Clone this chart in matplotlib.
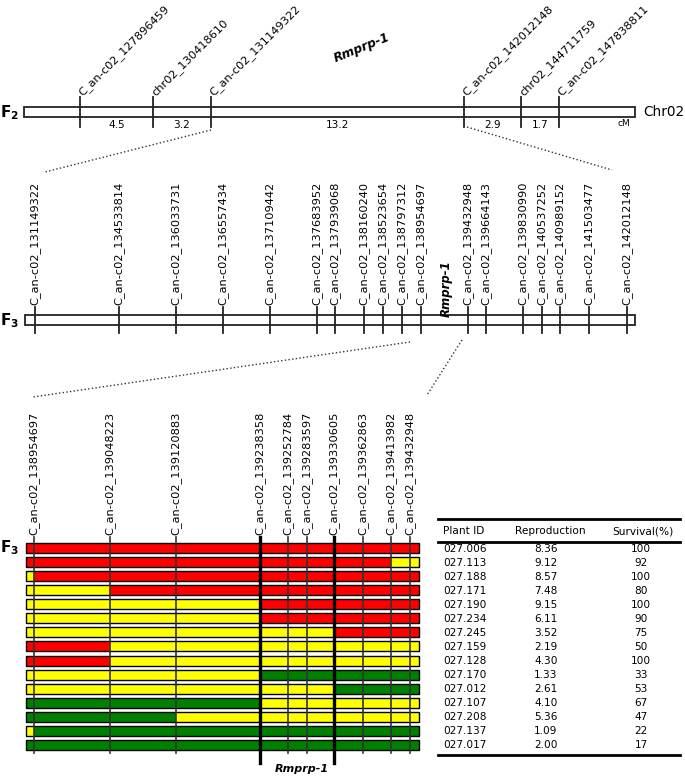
import matplotlib.pyplot as plt
from matplotlib.patches import Rectangle

# F2 linkage map
f2_markers = ['C_an-c02_127896459', 'chr02_130418610', 'C_an-c02_131149322',
              'C_an-c02_142012148', 'chr02_144711759', 'C_an-c02_147838811']
f2_cm = ['4.5', '3.2', '13.2', '2.9', '1.7']

# F3 map
f3_markers = ['C_an-c02_131149322', 'C_an-c02_134533814', 'C_an-c02_136033731',
              'C_an-c02_136557434', 'C_an-c02_137109442', 'C_an-c02_137683952',
              'C_an-c02_137939068', 'C_an-c02_138160240', 'C_an-c02_138523654',
              'C_an-c02_138797312', 'C_an-c02_138954697', 'C_an-c02_139432948',
              'C_an-c02_139664143', 'C_an-c02_139830990', 'C_an-c02_140537252',
              'C_an-c02_140989152', 'C_an-c02_141503477', 'C_an-c02_142012148']

# fine map markers and genotypes of the F3 plants (A red, H yellow, B green)
fine_markers = ['C_an-c02_138954697', 'C_an-c02_139048223', 'C_an-c02_139120883',
                'C_an-c02_139238358', 'C_an-c02_139252784', 'C_an-c02_139283597',
                'C_an-c02_139330605', 'C_an-c02_139362863', 'C_an-c02_139413982',
                'C_an-c02_139432948']
genotypes = ['AAAAAAAAAAA', 'AAAAAAAAAHH', 'HAAAAAAAAAA', 'HHAAAAAAAAA',
             'HHHHAAAAAAA', 'HHHHAAAAAAA', 'HHHHHHHAAAA', 'AAHHHHHHHHH',
             'AAHHHHHHHHH', 'HHHHBBBBBBB', 'HHHHHHHBBBB', 'BBBBHHHHHHH',
             'BBBHHHHHHHH', 'HBBBBBBBBBB', 'BBBBBBBBBBB']

plant_id = ['027.006', '027.113', '027.188', '027.171', '027.190', '027.234',
            '027.245', '027.159', '027.128', '027.170', '027.012', '027.107',
            '027.208', '027.137', '027.017']
reproduction = ['8.36', '9.12', '8.57', '7.48', '9.15', '6.11', '3.52', '2.19',
                '4.30', '1.33', '2.61', '4.10', '5.36', '1.09', '2.00']
survival = ['100', '92', '100', '80', '100', '90', '75', '50', '100', '33',
            '53', '67', '47', '22', '17']

# schematic layout (pixel units)
f2_x = [80, 153, 211, 464, 521, 559]
f3_x = [35, 119, 176, 223, 270, 317, 335, 364, 383, 402, 421, 468, 486, 523,
        542, 560, 589, 627]
fine_x = [34, 110, 176, 260, 288, 307, 334, 363, 391, 410]
geno_col = {'A': '#ff0000', 'H': '#ffff00', 'B': '#008000'}

fig = plt.figure(figsize=(6.85, 7.76), dpi=100)
ax = fig.add_axes([0, 0, 1, 1])
ax.set_xlim(0, 685)
ax.set_ylim(776, 0)
ax.axis('off')

lab_fs = 8.2

# ---- F2 ----
ax.add_patch(Rectangle((24, 107), 611, 10, fc='white', ec='#222', lw=1.3))
for x, name in zip(f2_x, f2_markers):
    ax.plot([x, x], [97, 127], color='#222', lw=1.3)
    ax.text(x + 1, 94, name, rotation=45, rotation_mode='anchor',
            ha='left', va='center', fontsize=lab_fs)
for i, d in enumerate(f2_cm):
    ax.text((f2_x[i] + f2_x[i + 1]) / 2, 125, d, ha='center', va='center',
            fontsize=7.6)
ax.text(624, 124, 'cM', ha='center', va='center', fontsize=6.5)
ax.text(684, 112, 'Chr02', ha='right', va='center', fontsize=9.8)
ax.text(0, 113, r'$\mathbf{F_2}$', ha='left', va='center', fontsize=11)
ax.text(362, 48, 'Rmprp-1', rotation=22, ha='center', va='center',
        fontsize=8.8, fontweight='bold', fontstyle='italic')

ax.plot([211, 45], [130, 172], ls=':', color='#333', lw=1)
ax.plot([467, 612], [127, 170], ls=':', color='#333', lw=1)

# ---- F3 ----
ax.add_patch(Rectangle((25, 315), 610, 10, fc='white', ec='#222', lw=1.3))
for x, name in zip(f3_x, f3_markers):
    ax.plot([x, x], [307, 333], color='#222', lw=1.3)
    ax.text(x, 305, name, rotation=90, rotation_mode='anchor',
            ha='left', va='center', fontsize=lab_fs)
ax.text(0, 321, r'$\mathbf{F_3}$', ha='left', va='center', fontsize=11)
ax.text(446, 289, 'Rmprp-1', rotation=90, ha='center', va='center',
        fontsize=8.5, fontweight='bold', fontstyle='italic')

ax.plot([410, 33], [342, 397], ls=':', color='#333', lw=1)
ax.plot([462, 427], [340, 395], ls=':', color='#333', lw=1)

# ---- fine map with genotypes ----
bounds = [26] + fine_x + [419]
row_top = 543
row_step = 14.07
for r, g in enumerate(genotypes):
    y = row_top + r * row_step
    for k, c in enumerate(g):
        ax.add_patch(Rectangle((bounds[k], y), bounds[k + 1] - bounds[k], 10,
                               fc=geno_col[c], ec='none'))
    ax.add_patch(Rectangle((26, y), 393, 10, fc='none', ec='black', lw=1))
for i, (x, name) in enumerate(zip(fine_x, fine_markers)):
    thick = i in (3, 6)
    ax.plot([x, x], [537, 763 if thick else 753],
            color='black' if thick else '#333', lw=2.4 if thick else 1.2)
    ax.text(x, 535, name, rotation=90, rotation_mode='anchor',
            ha='left', va='center', fontsize=lab_fs)
ax.text(0, 548, r'$\mathbf{F_3}$', ha='left', va='center', fontsize=11)
ax.text(302, 769, 'Rmprp-1', ha='center', va='center', fontsize=8,
        fontweight='bold', fontstyle='italic')

# ---- table ----
tab_fs = 7.6
ax.plot([438, 680], [519, 519], color='black', lw=2)
ax.plot([438, 680], [542, 542], color='black', lw=2)
ax.plot([438, 680], [755, 755], color='black', lw=2)
ax.text(443, 531, 'Plant ID', ha='left', va='center', fontsize=tab_fs)
ax.text(550, 531, 'Reproduction', ha='center', va='center', fontsize=tab_fs)
ax.text(643, 531, 'Survival(%)', ha='center', va='center', fontsize=tab_fs)
for r in range(len(plant_id)):
    y = 549 + r * 14.0
    ax.text(443, y, plant_id[r], ha='left', va='center', fontsize=tab_fs)
    ax.text(546, y, reproduction[r], ha='center', va='center', fontsize=tab_fs)
    ax.text(641, y, survival[r], ha='center', va='center', fontsize=tab_fs)

fig.savefig('out.png', dpi=100)
